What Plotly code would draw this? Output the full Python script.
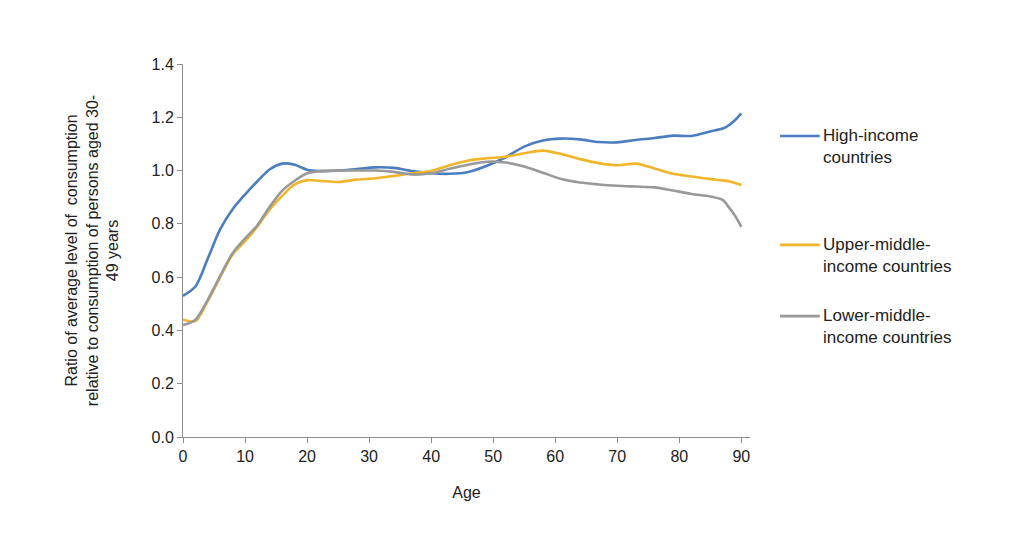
import plotly.graph_objects as go

ages = [0, 2, 4, 6, 8, 10, 12, 14, 16, 18, 20, 22, 25, 28, 31, 34, 37, 40, 43, 46, 49,
        52, 55, 58, 61, 64, 67, 70, 73, 76, 79, 82, 85, 87, 88, 89, 90]

high_income = [0.53, 0.565, 0.67, 0.78, 0.855, 0.91, 0.96, 1.005, 1.026, 1.022, 1.003,
               0.998, 1.0, 1.006, 1.012, 1.010, 0.998, 0.99, 0.988, 0.995, 1.018,
               1.05, 1.09, 1.113, 1.12, 1.117, 1.107, 1.106, 1.115, 1.122, 1.131,
               1.13, 1.147, 1.158, 1.17, 1.19, 1.215]

upper_middle = [0.44, 0.435, 0.51, 0.6, 0.685, 0.735, 0.79, 0.855, 0.905, 0.948, 0.964,
                0.962, 0.957, 0.966, 0.971, 0.98, 0.99, 0.998, 1.02, 1.038, 1.046,
                1.052, 1.065, 1.075, 1.062, 1.043, 1.028, 1.02, 1.026, 1.008, 0.988,
                0.978, 0.968, 0.963, 0.96, 0.953, 0.946]

lower_middle = [0.42, 0.44, 0.515, 0.605, 0.69, 0.745, 0.795, 0.865, 0.925, 0.962, 0.99,
                0.998, 1.0, 1.0, 1.0, 0.995, 0.985, 0.99, 1.007, 1.022, 1.033,
                1.03, 1.015, 0.992, 0.968, 0.955, 0.948, 0.943, 0.94, 0.937, 0.925,
                0.912, 0.903, 0.89, 0.862, 0.83, 0.789]

series_names = ["High-income<br>countries",
                "Upper-middle-<br>income countries",
                "Lower-middle-<br>income countries"]
colors = ["#4A7EBF", "#F2B529", "#999999"]

font = "Liberation Sans, Arial, sans-serif"

fig = go.Figure()
for vals, name, col in zip([high_income, upper_middle, lower_middle], series_names, colors):
    fig.add_trace(go.Scatter(x=ages, y=vals, mode="lines", name=name,
                             line=dict(color=col, width=2.6, shape="spline", smoothing=0.8),
                             showlegend=False))

# legend drawn by hand (entries are unevenly spaced in the original)
legend_y = [0.807, 0.515, 0.324]
for name, col, ly in zip(series_names, colors, legend_y):
    fig.add_shape(type="line", xref="paper", yref="paper",
                  x0=1.053, x1=1.123, y0=ly, y1=ly, line=dict(color=col, width=2.6))
    fig.add_annotation(xref="paper", yref="paper", x=1.125, y=ly + 0.032,
                       text=name, showarrow=False, xanchor="left", yanchor="top",
                       align="left", font=dict(family=font, size=17, color="#222"))

fig.update_layout(
    width=1024, height=557,
    margin=dict(l=175, r=282, t=56, b=128),
    paper_bgcolor="white", plot_bgcolor="white",
    font=dict(family=font, size=16, color="#222"),
    xaxis=dict(range=[0, 91.4], tickvals=[0, 10, 20, 30, 40, 50, 60, 70, 80, 90],
               showgrid=False, zeroline=False, showline=True, linecolor="#8c8c8c",
               linewidth=1, ticks="outside", ticklen=5, tickcolor="#8c8c8c",
               tickfont=dict(size=16), title=dict(text="Age", font=dict(size=16), standoff=22)),
    yaxis=dict(range=[0, 1.4], tickvals=[0, 0.2, 0.4, 0.6, 0.8, 1.0, 1.2, 1.4],
               tickformat=".1f", showgrid=False, zeroline=False, showline=True,
               linecolor="#8c8c8c", linewidth=1, ticks="outside", ticklen=5,
               tickcolor="#8c8c8c", tickfont=dict(size=16),
               title=dict(text="Ratio of average level of  consumption<br>relative to consumption of persons aged 30-<br>49 years",
                          font=dict(size=16), standoff=28)),
)

fig.write_html("out.html")
